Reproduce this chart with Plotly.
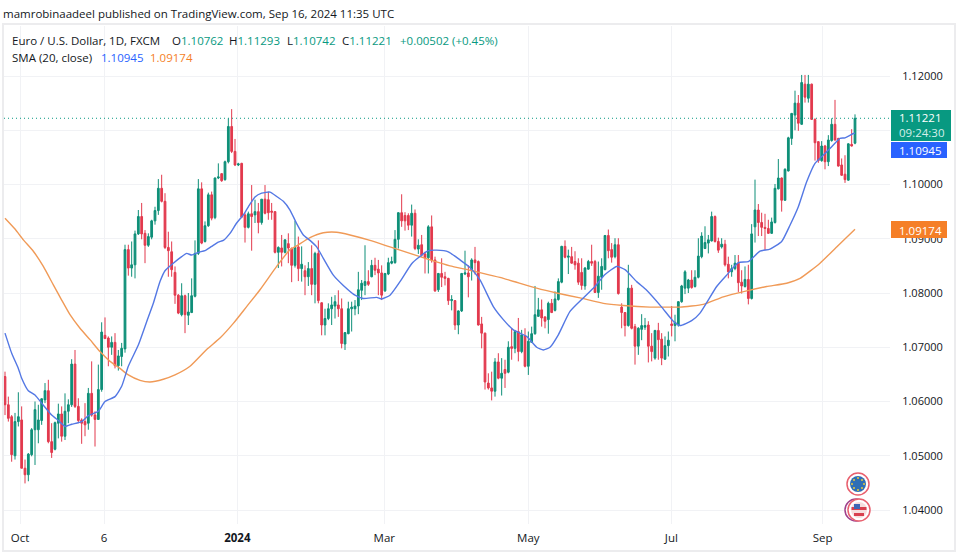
"""EUR/USD daily candles with two moving averages, TradingView look."""

import plotly.graph_objects as go

WIDTH, HEIGHT = 959, 557
FONT = "Open Sans"
TEXT = "#131722"
UP = "#0e8f78"
DOWN = "#e2394d"
GRID = "#f1f2f5"

opens = [
    1.0646, 1.0594, 1.0572, 1.0500, 1.0563, 1.0566, 1.0477, 1.0465, 1.0502, 1.0548,
    1.0548, 1.0565, 1.0603, 1.0620, 1.0526, 1.0512, 1.0560, 1.0577, 1.0536, 1.0582,
    1.0594, 1.0669, 1.0591, 1.0566, 1.0563, 1.0560, 1.0615, 1.0575, 1.0567, 1.0622,
    1.0722, 1.0717, 1.0700, 1.0709, 1.0666, 1.0683, 1.0697, 1.0880, 1.0846, 1.0852,
    1.0909, 1.0941, 1.0910, 1.0888, 1.0903, 1.0933, 1.0952, 1.0993, 1.0969, 1.0884,
    1.0876, 1.0838, 1.0796, 1.0760, 1.0795, 1.0759, 1.0764, 1.0794, 1.0873, 1.0992,
    1.0895, 1.0924, 1.0981, 1.0939, 1.1012, 1.1020, 1.1009, 1.1042, 1.1107, 1.1061,
    1.1036, 1.1039, 1.0944, 1.0921, 1.0946, 1.0944, 1.0950, 1.0930, 1.0973, 1.0972,
    1.0951, 1.0950, 1.0875, 1.0883, 1.0875, 1.0891, 1.0882, 1.0851, 1.0885, 1.0845,
    1.0841, 1.0830, 1.0845, 1.0816, 1.0873, 1.0782, 1.0741, 1.0753, 1.0771, 1.0776,
    1.0778, 1.0771, 1.0706, 1.0725, 1.0771, 1.0771, 1.0776, 1.0805, 1.0814, 1.0821,
    1.0830, 1.0851, 1.0844, 1.0837, 1.0804, 1.0835, 1.0855, 1.0856, 1.0899, 1.0948,
    1.0943, 1.0943, 1.0925, 1.0947, 1.0881, 1.0889, 1.0872, 1.0865, 1.0922, 1.0861,
    1.0806, 1.0836, 1.0830, 1.0827, 1.0786, 1.0786, 1.0741, 1.0767, 1.0835, 1.0837,
    1.0843, 1.0861, 1.0858, 1.0743, 1.0726, 1.0634, 1.0625, 1.0619, 1.0673, 1.0643,
    1.0659, 1.0654, 1.0701, 1.0698, 1.0729, 1.0692, 1.0721, 1.0665, 1.0709, 1.0725,
    1.0757, 1.0769, 1.0756, 1.0751, 1.0781, 1.0768, 1.0788, 1.0820, 1.0886, 1.0866,
    1.0867, 1.0858, 1.0855, 1.0838, 1.0813, 1.0844, 1.0858, 1.0858, 1.0801, 1.0829,
    1.0843, 1.0906, 1.0880, 1.0867, 1.0889, 1.0774, 1.0764, 1.0740, 1.0809, 1.0738,
    1.0702, 1.0733, 1.0737, 1.0741, 1.0702, 1.0680, 1.0731, 1.0715, 1.0678, 1.0703,
    1.0743, 1.0740, 1.0741, 1.0784, 1.0809, 1.0809, 1.0824, 1.0812, 1.0829, 1.0867,
    1.0882, 1.0892, 1.0896, 1.0941, 1.0895, 1.0885, 1.0890, 1.0853, 1.0839, 1.0845,
    1.0855, 1.0820, 1.0812, 1.0825, 1.0790, 1.0922, 1.0953, 1.0930, 1.0921, 1.0919,
    1.0910, 1.0930, 1.0992, 1.1012, 1.0971, 1.1025, 1.1085, 1.1128, 1.1150, 1.1111,
    1.1185, 1.1159, 1.1185, 1.1120, 1.1079, 1.1044, 1.1071, 1.1042, 1.1081, 1.1111,
    1.1085, 1.1036, 1.1019, 1.1008, 1.1074, 1.10762,
]
highs = [
    1.0655, 1.0609, 1.0575, 1.0579, 1.0617, 1.0591, 1.0493, 1.0505, 1.0551, 1.0600,
    1.0594, 1.0606, 1.0634, 1.0640, 1.0560, 1.0563, 1.0596, 1.0591, 1.0615, 1.0604,
    1.0678, 1.0695, 1.0606, 1.0569, 1.0597, 1.0625, 1.0674, 1.0582, 1.0668, 1.0746,
    1.0755, 1.0720, 1.0720, 1.0726, 1.0695, 1.0708, 1.0889, 1.0889, 1.0895, 1.0915,
    1.0953, 1.0966, 1.0916, 1.0910, 1.0935, 1.0959, 1.1010, 1.1018, 1.0984, 1.0913,
    1.0895, 1.0849, 1.0798, 1.0818, 1.0797, 1.0800, 1.0827, 1.0897, 1.1010, 1.1004,
    1.0932, 1.0985, 1.0987, 1.1013, 1.1039, 1.1021, 1.1044, 1.1122, 1.1139, 1.1084,
    1.1040, 1.1040, 1.0947, 1.0950, 1.0999, 1.0972, 1.0966, 1.0973, 1.0999, 1.0987,
    1.0966, 1.0951, 1.0886, 1.0907, 1.0899, 1.0910, 1.0884, 1.0933, 1.0904, 1.0886,
    1.0851, 1.0857, 1.0888, 1.0876, 1.0897, 1.0783, 1.0771, 1.0781, 1.0793, 1.0796,
    1.0805, 1.0790, 1.0728, 1.0784, 1.0784, 1.0787, 1.0839, 1.0824, 1.0888, 1.0842,
    1.0861, 1.0865, 1.0861, 1.0851, 1.0837, 1.0865, 1.0867, 1.0916, 1.0949, 1.0982,
    1.0949, 1.0947, 1.0963, 1.0954, 1.0899, 1.0907, 1.0876, 1.0925, 1.0943, 1.0867,
    1.0837, 1.0864, 1.0839, 1.0828, 1.0796, 1.0787, 1.0768, 1.0837, 1.0878, 1.0851,
    1.0864, 1.0885, 1.0860, 1.0756, 1.0727, 1.0652, 1.0655, 1.0680, 1.0689, 1.0680,
    1.0677, 1.0711, 1.0735, 1.0732, 1.0754, 1.0732, 1.0735, 1.0729, 1.0738, 1.0813,
    1.0791, 1.0788, 1.0757, 1.0784, 1.0789, 1.0803, 1.0827, 1.0887, 1.0897, 1.0880,
    1.0885, 1.0877, 1.0864, 1.0864, 1.0848, 1.0861, 1.0889, 1.0861, 1.0858, 1.0864,
    1.0907, 1.0917, 1.0892, 1.0901, 1.0901, 1.0781, 1.0765, 1.0852, 1.0815, 1.0743,
    1.0737, 1.0761, 1.0754, 1.0748, 1.0726, 1.0732, 1.0745, 1.0726, 1.0720, 1.0729,
    1.0776, 1.0760, 1.0785, 1.0815, 1.0842, 1.0826, 1.0842, 1.0842, 1.0901, 1.0912,
    1.0923, 1.0907, 1.0950, 1.0943, 1.0902, 1.0901, 1.0898, 1.0867, 1.0852, 1.0870,
    1.0870, 1.0842, 1.0849, 1.0852, 1.0927, 1.1009, 1.0964, 1.0948, 1.0946, 1.0935,
    1.0939, 1.1001, 1.1047, 1.1013, 1.1030, 1.1088, 1.1132, 1.1173, 1.1165, 1.1202,
    1.1202, 1.1202, 1.1186, 1.1122, 1.1080, 1.1080, 1.1073, 1.1091, 1.1122, 1.1156,
    1.1086, 1.1048, 1.1054, 1.1076, 1.1102, 1.11293,
]
lows = [
    1.0575, 1.0563, 1.0489, 1.0493, 1.0554, 1.0477, 1.0449, 1.0453, 1.0499, 1.0483,
    1.0523, 1.0557, 1.0597, 1.0523, 1.0496, 1.0510, 1.0532, 1.0526, 1.0529, 1.0560,
    1.0590, 1.0588, 1.0560, 1.0522, 1.0536, 1.0548, 1.0572, 1.0517, 1.0566, 1.0618,
    1.0716, 1.0665, 1.0686, 1.0661, 1.0657, 1.0665, 1.0690, 1.0832, 1.0830, 1.0827,
    1.0907, 1.0899, 1.0855, 1.0885, 1.0899, 1.0926, 1.0944, 1.0967, 1.0881, 1.0830,
    1.0830, 1.0780, 1.0761, 1.0757, 1.0726, 1.0741, 1.0763, 1.0792, 1.0870, 1.0890,
    1.0893, 1.0922, 1.0934, 1.0936, 1.1010, 1.1005, 1.1007, 1.1039, 1.1058, 1.1034,
    1.1034, 1.0938, 1.0893, 1.0919, 1.0878, 1.0929, 1.0910, 1.0926, 1.0945, 1.0935,
    1.0935, 1.0873, 1.0846, 1.0849, 1.0873, 1.0855, 1.0820, 1.0847, 1.0822, 1.0821,
    1.0796, 1.0813, 1.0796, 1.0781, 1.0781, 1.0722, 1.0722, 1.0750, 1.0741, 1.0753,
    1.0756, 1.0698, 1.0695, 1.0724, 1.0729, 1.0759, 1.0761, 1.0787, 1.0796, 1.0813,
    1.0829, 1.0833, 1.0796, 1.0787, 1.0802, 1.0833, 1.0853, 1.0854, 1.0882, 1.0922,
    1.0915, 1.0916, 1.0904, 1.0879, 1.0872, 1.0867, 1.0836, 1.0836, 1.0856, 1.0802,
    1.0802, 1.0811, 1.0814, 1.0778, 1.0768, 1.0732, 1.0724, 1.0765, 1.0833, 1.0792,
    1.0823, 1.0834, 1.0740, 1.0698, 1.0622, 1.0622, 1.0602, 1.0609, 1.0641, 1.0611,
    1.0625, 1.0652, 1.0677, 1.0689, 1.0674, 1.0689, 1.0663, 1.0649, 1.0708, 1.0723,
    1.0756, 1.0738, 1.0735, 1.0725, 1.0763, 1.0766, 1.0786, 1.0818, 1.0864, 1.0835,
    1.0854, 1.0843, 1.0815, 1.0806, 1.0806, 1.0843, 1.0850, 1.0800, 1.0791, 1.0806,
    1.0842, 1.0864, 1.0856, 1.0864, 1.0797, 1.0735, 1.0720, 1.0738, 1.0733, 1.0668,
    1.0686, 1.0713, 1.0732, 1.0672, 1.0674, 1.0677, 1.0677, 1.0667, 1.0677, 1.0683,
    1.0720, 1.0711, 1.0738, 1.0782, 1.0798, 1.0800, 1.0808, 1.0810, 1.0827, 1.0864,
    1.0881, 1.0873, 1.0895, 1.0893, 1.0874, 1.0882, 1.0849, 1.0827, 1.0830, 1.0842,
    1.0802, 1.0799, 1.0810, 1.0779, 1.0788, 1.0893, 1.0905, 1.0905, 1.0879, 1.0909,
    1.0909, 1.0928, 1.0991, 1.0950, 1.0970, 1.1024, 1.1073, 1.1100, 1.1099, 1.1110,
    1.1151, 1.1151, 1.1119, 1.1044, 1.1040, 1.1042, 1.1028, 1.1034, 1.1079, 1.1081,
    1.1033, 1.1016, 1.1003, 1.1007, 1.1070, 1.10742,
]
closes = [
    1.0594, 1.0569, 1.0502, 1.0563, 1.0572, 1.0477, 1.0465, 1.0503, 1.0548, 1.0585,
    1.0566, 1.0605, 1.0620, 1.0526, 1.0506, 1.0561, 1.0577, 1.0536, 1.0582, 1.0594,
    1.0669, 1.0591, 1.0565, 1.0560, 1.0557, 1.0615, 1.0575, 1.0567, 1.0622, 1.0728,
    1.0716, 1.0700, 1.0709, 1.0666, 1.0684, 1.0698, 1.0880, 1.0846, 1.0852, 1.0909,
    1.0941, 1.0909, 1.0888, 1.0904, 1.0933, 1.0952, 1.0993, 1.0969, 1.0884, 1.0878,
    1.0843, 1.0796, 1.0763, 1.0795, 1.0760, 1.0765, 1.0795, 1.0873, 1.0992, 1.0892,
    1.0924, 1.0981, 1.0938, 1.1012, 1.1014, 1.1007, 1.1042, 1.1107, 1.1061, 1.1036,
    1.1038, 1.0940, 1.0921, 1.0946, 1.0941, 1.0950, 1.0930, 1.0973, 1.0947, 1.0948,
    1.0949, 1.0875, 1.0884, 1.0875, 1.0898, 1.0883, 1.0851, 1.0884, 1.0845, 1.0853,
    1.0830, 1.0845, 1.0816, 1.0873, 1.0786, 1.0741, 1.0753, 1.0771, 1.0778, 1.0784,
    1.0771, 1.0707, 1.0727, 1.0771, 1.0774, 1.0776, 1.0806, 1.0818, 1.0821, 1.0816,
    1.0851, 1.0842, 1.0837, 1.0796, 1.0836, 1.0856, 1.0858, 1.0899, 1.0948, 1.0933,
    1.0933, 1.0925, 1.0947, 1.0882, 1.0888, 1.0870, 1.0865, 1.0922, 1.0861, 1.0804,
    1.0836, 1.0829, 1.0827, 1.0786, 1.0788, 1.0741, 1.0767, 1.0836, 1.0837, 1.0830,
    1.0861, 1.0856, 1.0741, 1.0726, 1.0636, 1.0625, 1.0619, 1.0673, 1.0643, 1.0652,
    1.0652, 1.0700, 1.0698, 1.0729, 1.0692, 1.0723, 1.0665, 1.0711, 1.0725, 1.0760,
    1.0769, 1.0754, 1.0748, 1.0781, 1.0764, 1.0789, 1.0821, 1.0886, 1.0866, 1.0868,
    1.0855, 1.0852, 1.0820, 1.0814, 1.0846, 1.0858, 1.0855, 1.0801, 1.0831, 1.0849,
    1.0906, 1.0878, 1.0866, 1.0889, 1.0799, 1.0764, 1.0740, 1.0809, 1.0735, 1.0702,
    1.0735, 1.0740, 1.0740, 1.0702, 1.0692, 1.0731, 1.0714, 1.0680, 1.0703, 1.0713,
    1.0740, 1.0746, 1.0784, 1.0813, 1.0839, 1.0824, 1.0810, 1.0829, 1.0868, 1.0905,
    1.0893, 1.0898, 1.0941, 1.0895, 1.0879, 1.0890, 1.0852, 1.0839, 1.0845, 1.0855,
    1.0819, 1.0813, 1.0825, 1.0790, 1.0909, 1.0953, 1.0930, 1.0921, 1.0919, 1.0910,
    1.0931, 1.0993, 1.1012, 1.0971, 1.1028, 1.1086, 1.1131, 1.1150, 1.1113, 1.1188,
    1.1161, 1.1185, 1.1120, 1.1077, 1.1044, 1.1071, 1.1042, 1.1082, 1.1111, 1.1082,
    1.1034, 1.1017, 1.1009, 1.1075, 1.1071, 1.11221,
]
assert len(opens) == len(highs) == len(lows) == len(closes) == 256

sma_fast_x = [
    0, 2, 4, 5, 7, 9, 11, 14, 16, 18, 20, 23, 25, 28, 30, 33, 35, 37, 40, 42.5, 44.5,
    46.5, 48, 50.5, 53, 54.5, 56, 58, 60, 62, 64, 65.5, 67.5, 69.5, 71.5, 73, 75, 77,
    79.5, 81.5, 83.5, 85.5, 87.5, 89.5, 91.5, 93.5, 95.5, 98.5, 101.5, 105, 107.5,
    111.5, 113, 115.5, 118.5, 122, 124, 127, 129.5, 133, 136.5, 139.5, 142.5, 146.5,
    149.5, 152.5, 156.5, 159.5, 161.5, 163.5, 166, 169.5, 173.5, 177, 180, 183.5, 186,
    189.5, 192.5, 197, 200.5, 202.5, 206, 208.5, 213.5, 216.5, 220, 223, 226.5, 229.5,
    233, 235.5, 238, 240.5, 243, 246, 248.5, 250.5, 252, 254.5, 255,
]
sma_fast = [
    1.0726, 1.0689, 1.0661, 1.0643, 1.0620, 1.0612, 1.0597, 1.0575, 1.0565, 1.0554,
    1.0558, 1.0563, 1.0574, 1.0582, 1.0600, 1.0609, 1.0628, 1.0665, 1.0704, 1.0747,
    1.0781, 1.0821, 1.0841, 1.0855, 1.0867, 1.0873, 1.0870, 1.0875, 1.0878, 1.0886,
    1.0894, 1.0897, 1.0910, 1.0929, 1.0944, 1.0959, 1.0977, 1.0984, 1.0986, 1.0978,
    1.0969, 1.0953, 1.0928, 1.0907, 1.0897, 1.0885, 1.0864, 1.0833, 1.0814, 1.0796,
    1.0790, 1.0792, 1.0789, 1.0796, 1.0821, 1.0854, 1.0865, 1.0878, 1.0879, 1.0876,
    1.0861, 1.0847, 1.0824, 1.0775, 1.0751, 1.0732, 1.0720, 1.0700, 1.0695, 1.0700,
    1.0723, 1.0766, 1.0791, 1.0812, 1.0834, 1.0849, 1.0843, 1.0821, 1.0805, 1.0774,
    1.0748, 1.0740, 1.0749, 1.0763, 1.0812, 1.0833, 1.0856, 1.0858, 1.0877, 1.0881,
    1.0895, 1.0925, 1.0959, 1.1005, 1.1039, 1.1057, 1.1073, 1.1085, 1.1086, 1.1094,
    1.10945,
]
sma_slow_x = [
    0, 3, 5.5, 8.5, 11.5, 14.5, 17, 19.5, 22.5, 25.5, 28.5, 31.5, 34.5, 37, 40.5, 43.5,
    47.5, 51, 55.5, 60.5, 64.5, 68.5, 72.5, 76.5, 81.5, 85.5, 87.5, 91.5, 95.5, 99.5,
    103.5, 109.5, 115.5, 121.5, 127.5, 133.5, 139.5, 145.5, 149.5, 159.5, 165.5, 172.5,
    179.5, 185.5, 193.5, 199.5, 202.5, 209.5, 215.5, 222.5, 228.5, 234.5, 238.5, 244.5,
    249.5, 255,
]
sma_slow = [
    1.0938, 1.0918, 1.0898, 1.0877, 1.0849, 1.0815, 1.0787, 1.0760, 1.0735, 1.0714,
    1.0692, 1.0674, 1.0661, 1.0649, 1.0639, 1.0636, 1.0641, 1.0649, 1.0665, 1.0696,
    1.0717, 1.0744, 1.0775, 1.0806, 1.0849, 1.0880, 1.0887, 1.0902, 1.0911, 1.0912,
    1.0907, 1.0897, 1.0885, 1.0873, 1.0861, 1.0850, 1.0842, 1.0833, 1.0827, 1.0809,
    1.0800, 1.0791, 1.0781, 1.0777, 1.0774, 1.0774, 1.0774, 1.0779, 1.0793, 1.0804,
    1.0812, 1.0818, 1.0827, 1.0855, 1.0885, 1.09174,
]

month_pos = [4.5, 29.7, 69.7, 113.8, 157, 199.9, 245.3]
month_labels = ["Oct", "6", "<b>2024</b>", "Mar", "May", "Jul", "Sep"]
price_ticks = [1.04, 1.05, 1.06, 1.07, 1.08, 1.09, 1.10, 1.11, 1.12]
# the 1.11000 label sits hidden behind the last-price tag in the original
price_labels = ["1.04000", "1.05000", "1.06000", "1.07000", "1.08000", "1.09000",
                "1.10000", "", "1.12000"]
last_close = 1.11221


def fx(px):
    return px / WIDTH


def fy(py):
    return 1 - py / HEIGHT


def text(fig, x, y, s, color=TEXT, size=11.5, anchor="left"):
    fig.add_annotation(
        x=fx(x), y=fy(y), xref="paper", yref="paper", text=s, showarrow=False,
        xanchor=anchor, yanchor="middle", align="left", borderpad=0, borderwidth=0,
        font=dict(family=FONT, size=size, color=color),
    )


def box(fig, x0, y0, x1, y1, fill, line=None, kind="rect", width=1):
    fig.add_shape(
        type=kind, xref="paper", yref="paper",
        x0=fx(x0), x1=fx(x1), y0=fy(y0), y1=fy(y1),
        fillcolor=fill, line=dict(color=line or fill, width=width if line else 0),
        layer="above",
    )


fig = go.Figure()
bars = list(range(len(opens)))
fig.add_trace(go.Candlestick(
    x=bars, open=opens, high=highs, low=lows, close=closes, whiskerwidth=0,
    increasing=dict(line=dict(color=UP, width=1), fillcolor=UP),
    decreasing=dict(line=dict(color=DOWN, width=1), fillcolor=DOWN),
    showlegend=False,
))
fig.add_trace(go.Scatter(x=sma_slow_x, y=sma_slow, mode="lines",
                         line=dict(color="#f09a57", width=1.4, shape="spline", smoothing=0.5),
                         showlegend=False))
fig.add_trace(go.Scatter(x=sma_fast_x, y=sma_fast, mode="lines",
                         line=dict(color="#5478e4", width=1.4, shape="spline", smoothing=0.5),
                         showlegend=False))

fig.add_shape(type="line", xref="paper", yref="y", x0=fx(4), x1=fx(890),
              y0=last_close, y1=last_close,
              line=dict(color="#089981", width=1, dash="1px,3px"))

# chart frame
box(fig, 3, 24, 955, 551, "rgba(0,0,0,0)", line="#ececee", width=2)

# header and legend
text(fig, 3, 13, "mamrobinaadeel published on TradingView.com, Sep 16, 2024 11:35 UTC")
text(fig, 12, 40, "Euro / U.S. Dollar, 1D, FXCM")
for x, head, val in [(172, "O", "1.10762"), (229, "H", "1.11293"), (287, "L", "1.10742"),
                     (342, "C", "1.11221")]:
    text(fig, x, 40, f'{head}<span style="color:#089981">{val}</span>')
text(fig, 400, 40, "+0.00502", color="#089981")
text(fig, 452, 40, "(+0.45%)", color="#089981")
text(fig, 12, 57, "SMA (20, close)")
text(fig, 101, 57, "1.10945", color="#2962ff")
text(fig, 150, 57, "1.09174", color="#f57f27")

# price tags on the axis
box(fig, 891, 110, 951, 141, "#089981")
text(fig, 899, 125, '1.11221<br><span style="color:#d5efe9">09:24:30</span>',
     color="#ffffff", size=11.5)
box(fig, 891, 142, 947, 158, "#2962ff")
text(fig, 899, 150, "1.10945", color="#ffffff", size=11.5)
box(fig, 891, 221, 947, 238, "#f57f27")
text(fig, 899, 230, "1.09174", color="#ffffff", size=11.5)

# currency badges
box(fig, 847, 473, 869, 495, "#ffffff", line="#e8606e", kind="circle", width=1.5)
box(fig, 850, 476, 866, 492, "#2f6fb5", kind="circle")
for dx, dy in [(0, -6), (4, -4), (6, 0), (4, 4), (0, 6), (-4, 4), (-6, 0), (-4, -4)]:
    box(fig, 857 + dx, 483 + dy, 859 + dx, 485 + dy, "#e8c93c", kind="circle")
box(fig, 845, 499, 867, 521, "#ffffff", line="#a0408c", kind="circle", width=1.5)
box(fig, 848, 499, 870, 521, "#ffffff", line="#e8606e", kind="circle", width=1.5)
box(fig, 851, 502, 867, 518, "#f6dede", kind="circle")
box(fig, 851.5, 507, 866.5, 510, "#d8404f")
box(fig, 854, 513, 864, 516, "#d8404f")
box(fig, 854, 504, 860, 509, "#3f66b5")

fig.update_layout(
    width=WIDTH, height=HEIGHT, margin=dict(l=0, r=0, t=0, b=0),
    paper_bgcolor="white", plot_bgcolor="white", showlegend=False,
    font=dict(family=FONT, size=11, color=TEXT), boxgap=0.25,
    xaxis=dict(
        domain=[fx(4), fx(890)], range=[-0.3, 265.5], rangeslider=dict(visible=False),
        tickmode="array", tickvals=month_pos, ticktext=month_labels,
        showgrid=True, gridcolor=GRID, gridwidth=1, zeroline=False, showline=False,
        ticks="outside", ticklen=3, tickcolor="rgba(0,0,0,0)", tickfont=dict(size=11.5),
    ),
    yaxis=dict(
        domain=[fy(524), fy(26)], range=[1.03742, 1.12922], side="right",
        tickmode="array", tickvals=price_ticks, ticktext=price_labels,
        showgrid=True, gridcolor=GRID, gridwidth=1, zeroline=False, showline=False,
        ticks="outside", ticklen=9, tickcolor="rgba(0,0,0,0)",
    ),
)

# the reference has no page margin round the chart
fig.write_html("out.html", post_script="document.body.style.margin = '0';",
               config={"displayModeBar": False})
